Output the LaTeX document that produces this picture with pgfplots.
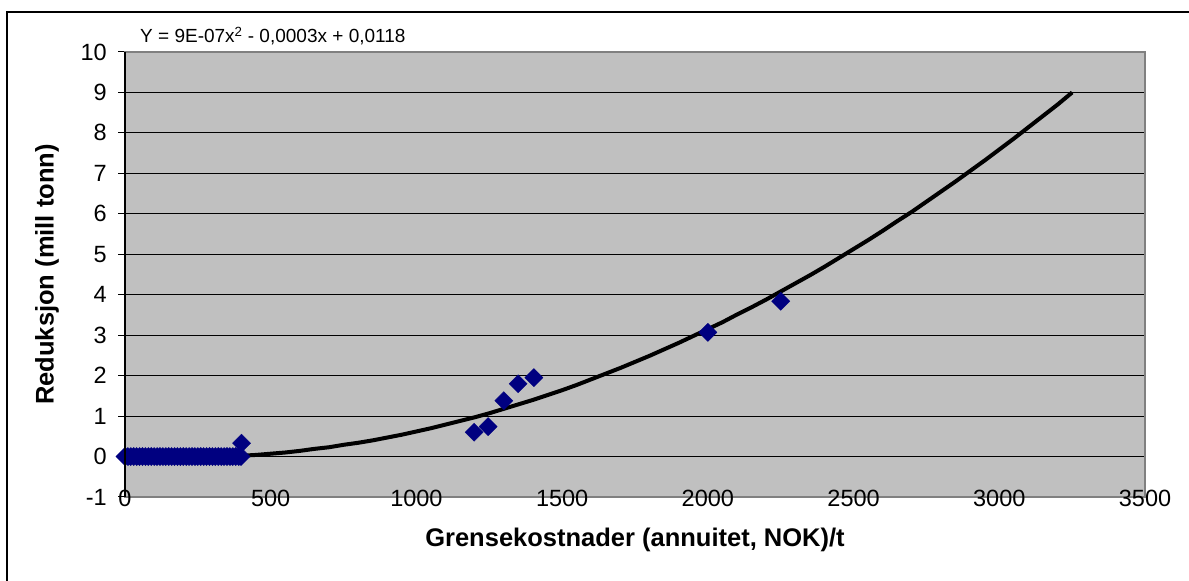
\documentclass[border=0pt]{standalone}
\usepackage{pgfplots}
\pgfplotsset{compat=1.18}
\usepackage{fontspec}
\setmainfont{Liberation Sans}
\definecolor{plotgray}{HTML}{C0C0C0}
\definecolor{navy}{HTML}{000080}
\definecolor{bordergray}{HTML}{808080}
\begin{document}
\begin{tikzpicture}[x=1pt,y=1pt]
\useasboundingbox (0,0) rectangle (1189,581);
\fill[white] (0,0) rectangle (1189,581);
\draw[black, line width=1.2pt] (7,0) -- (7,569) -- (1189,569);
\begin{axis}[name=ax, at={(125pt,84pt)}, anchor=south west,
  width=1020pt, height=445pt, scale only axis,
  xmin=0, xmax=3500, ymin=-1, ymax=10,
  xtick={0,500,1000,1500,2000,2500,3000,3500},
  ytick={-1,0,1,2,3,4,5,6,7,8,9,10},
  /pgf/number format/assume math mode=true,
  /pgf/number format/1000 sep={},
  axis background/.style={fill=plotgray},
  axis line style={draw=bordergray, line width=1.6pt},
  ymajorgrids, major grid style={black, line width=1pt},
  xtick style={draw=none},
  ytick style={black, line width=1pt},
  ytick pos=left, xtick pos=bottom,
  tick align=outside, major tick length=7pt,
  yticklabel style={font=\fontsize{23.5}{28}\selectfont, anchor=east, inner sep=0pt, xshift=-11pt},
  xticklabel style={font=\fontsize{23.5}{28}\selectfont, anchor=center, inner sep=0pt, yshift=6pt},
  xlabel={Grensekostnader (annuitet, NOK)/t},
  xlabel style={at={(axis description cs:0.5,-0.0966)}, anchor=center, font=\bfseries\fontsize{25.5}{30}\selectfont},
  ylabel={Reduksjon (mill tonn)},
  ylabel style={at={(axis description cs:-0.0765,0.5)}, anchor=center, font=\bfseries\fontsize{25.5}{30}\selectfont},
  clip=false,
]
\addplot[only marks, mark=square*, mark size=6.4pt, color=navy, mark options={rotate=45, fill=navy, draw=navy}] coordinates {
(0,0) (10,0) (20,0) (30,0) (40,0) (50,0) (60,0) (70,0) (80,0) (90,0)
(100,0) (110,0) (120,0) (130,0) (140,0) (150,0) (160,0) (170,0) (180,0) (190,0)
(200,0) (210,0) (220,0) (230,0) (240,0) (250,0) (260,0) (270,0) (280,0) (290,0)
(300,0) (310,0) (320,0) (330,0) (340,0) (350,0) (360,0) (370,0) (380,0) (390,0) (398,0)
(400,0.33)
(1198,0.60) (1246,0.74) (1300,1.38) (1349,1.80) (1403,1.95)
(2000,3.07) (2250,3.84)
};
\addplot[black, line width=4pt, no marks] coordinates {
(0,0.00) (50,-0.01) (100,-0.02) (150,-0.03) (200,-0.03) (250,-0.02) (300,-0.01)
(350,0.00) (400,0.02) (450,0.04) (500,0.07) (550,0.10) (600,0.14) (650,0.19)
(700,0.23) (750,0.29) (800,0.34) (850,0.40) (900,0.47) (950,0.54) (1000,0.62)
(1050,0.70) (1100,0.79) (1150,0.88) (1200,0.97) (1250,1.07) (1300,1.18) (1350,1.29)
(1400,1.40) (1450,1.52) (1500,1.64) (1550,1.77) (1600,1.91) (1650,2.05) (1700,2.19)
(1750,2.34) (1800,2.49) (1850,2.65) (1900,2.81) (1950,2.98) (2000,3.15) (2050,3.32)
(2100,3.51) (2150,3.69) (2200,3.88) (2250,4.08) (2300,4.28) (2350,4.48) (2400,4.69)
(2450,4.91) (2500,5.13) (2550,5.35) (2600,5.58) (2650,5.82) (2700,6.05) (2750,6.30)
(2800,6.55) (2850,6.80) (2900,7.06) (2950,7.32) (3000,7.59) (3050,7.86) (3100,8.14)
(3150,8.42) (3200,8.70) (3250,9.00)
};
\end{axis}
\draw[black, line width=1.4pt] (ax.south west) -- (ax.north west);
\node[anchor=west, inner sep=0pt, font=\fontsize{19}{23}\selectfont] at (140,545) {Y = 9E-07x\textsuperscript{2} - 0,0003x + 0,0118};
\end{tikzpicture}
\end{document}
